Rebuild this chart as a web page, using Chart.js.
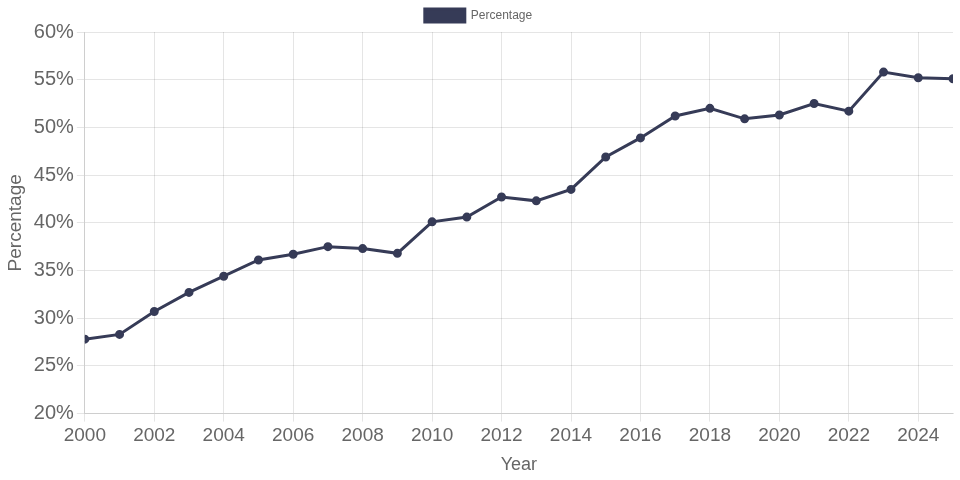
<!DOCTYPE html>
<html>
<head>
  <title>Percentage by Year</title>
  <script src="https://cdn.jsdelivr.net/npm/chart.js"></script>
  <style>
    body { margin: 0; background: #fff; }
  </style>
</head>
<body>
  <canvas id="percentChart" width="960" height="480"></canvas>

  <script>
    const years = [2000, 2001, 2002, 2003, 2004, 2005, 2006, 2007, 2008, 2009,
                   2010, 2011, 2012, 2013, 2014, 2015, 2016, 2017, 2018, 2019,
                   2020, 2021, 2022, 2023, 2024, 2025];
    const percentages = [27.8, 28.3, 30.7, 32.7, 34.4, 36.1, 36.7, 37.5, 37.3, 36.8,
                         40.1, 40.6, 42.7, 42.3, 43.5, 46.9, 48.9, 51.2, 52.0, 50.9,
                         51.3, 52.5, 51.7, 55.8, 55.2, 55.1];
    const yearTicks = [2000, 2002, 2004, 2006, 2008, 2010, 2012, 2014, 2016, 2018, 2020, 2022, 2024];

    const lineColor = '#363b57';
    Chart.defaults.font.family = '"Liberation Sans", Arial, sans-serif';
    Chart.defaults.color = '#666';

    const ctx = document.getElementById('percentChart').getContext('2d');

    new Chart(ctx, {
      type: 'line',
      data: {
        datasets: [{
          label: 'Percentage',
          data: years.map((y, i) => ({ x: y, y: percentages[i] })),
          borderColor: lineColor,
          backgroundColor: lineColor,
          borderWidth: 3,
          pointRadius: 3,
          pointBackgroundColor: lineColor,
          tension: 0
        }]
      },
      options: {
        responsive: false,
        animation: false,
        layout: { padding: { right: 3 } },
        plugins: {
          legend: {
            labels: { font: { size: 12 }, boxWidth: 40, boxHeight: 13, padding: 9 }
          }
        },
        scales: {
          x: {
            type: 'linear',
            min: 2000,
            max: 2025,
            afterBuildTicks: scale => {
              scale.ticks = yearTicks.map(v => ({ value: v }));
            },
            ticks: {
              font: { size: 19 },
              maxRotation: 0,
              autoSkip: false,
              callback: v => String(v)
            },
            title: { display: true, text: 'Year', font: { size: 18 } }
          },
          y: {
            min: 20,
            max: 60,
            ticks: {
              stepSize: 5,
              font: { size: 20 },
              callback: v => v + '%'
            },
            title: { display: true, text: 'Percentage', font: { size: 19 } }
          }
        }
      }
    });
  </script>
</body>
</html>
